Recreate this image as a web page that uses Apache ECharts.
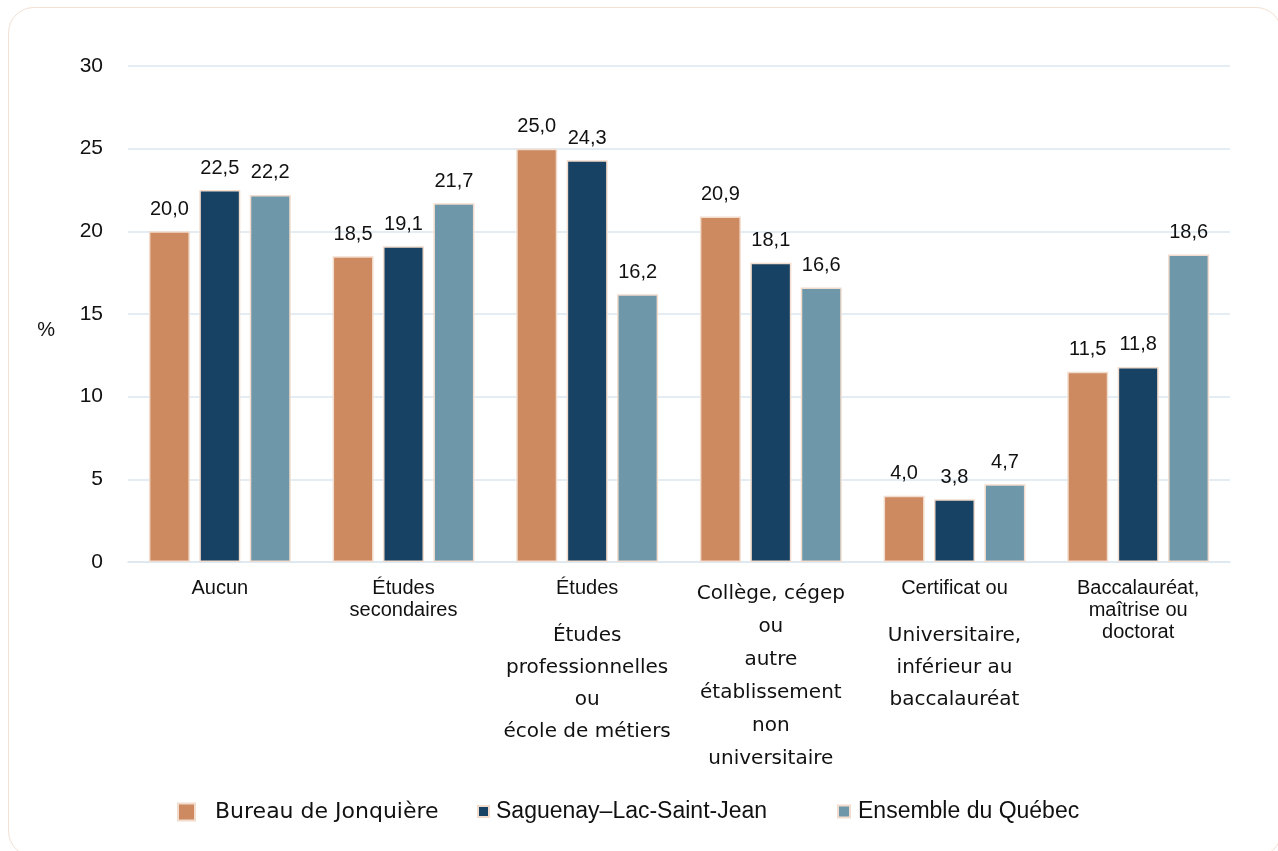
<!DOCTYPE html>
<html>
<head>
<meta charset="utf-8">
<script src="https://cdn.jsdelivr.net/npm/echarts@6/dist/echarts.min.js"></script>
<style>
  html, body { margin: 0; padding: 0; background: #fff; }
  .card {
    position: absolute; left: 8px; top: 7px; width: 1274px; height: 850px;
    border: 1px solid #f3e1d6; border-radius: 26px; box-sizing: border-box;
  }
  #chart { position: absolute; left: 0; top: 0; width: 1278px; height: 851px; }
</style>
</head>
<body>
<div class="card"></div>
<div id="chart"></div>
<script>
// catégories (niveau de scolarité)
const categories = ['Aucun', 'Études secondaires', 'Études professionnelles', 'Collège', 'Certificat', 'Baccalauréat'];
// libellés tels qu'affichés sous l'axe
const catLabels = [
  '{a|Aucun}',
  '{a|Études}\n{a|secondaires}',
  '{a|Études}\n{s| }\n{d|Études}\n{d|professionnelles}\n{d|ou}\n{d|école de métiers}',
  '{c|Collège, cégep}\n{c|ou}\n{c|autre}\n{c|établissement}\n{c|non}\n{c|universitaire}',
  '{a|Certificat ou}\n{s| }\n{d|Universitaire,}\n{d|inférieur au}\n{d|baccalauréat}',
  '{a|Baccalauréat,}\n{a|maîtrise ou}\n{a|doctorat}'
];

const seriesNames = ['Bureau de Jonquière', 'Saguenay–Lac-Saint-Jean', 'Ensemble du Québec'];
const jonquiere = [20.0, 18.5, 25.0, 20.9, 4.0, 11.5];
const saguenay = [22.5, 19.1, 24.3, 18.1, 3.8, 11.8];
const quebec = [22.2, 21.7, 16.2, 16.6, 4.7, 18.6];
const colors = ['#cd8a60', '#174263', '#6e97aa'];

const chart = echarts.init(document.getElementById('chart'));

function barSeries(name, data, color) {
  return {
    name: name,
    type: 'bar',
    data: data,
    barWidth: 41,
    barGap: '23%',
    itemStyle: { color: color, borderColor: '#f2dccd', borderWidth: 1.5 },
    label: {
      show: true,
      position: 'top',
      distance: 12,
      color: '#111',
      fontFamily: 'Liberation Sans',
      fontSize: 20,
      formatter: p => p.value.toFixed(1).replace('.', ',')
    }
  };
}

const legendBase = {
  top: 800,
  padding: 0,
  icon: 'rect',
  selectedMode: true
};

chart.setOption({
  animation: false,
  grid: { left: 128, right: 48, top: 66, bottom: 289 },
  legend: [
    Object.assign({}, legendBase, {
      data: [seriesNames[0]], left: 177, top: 801, itemWidth: 17, itemHeight: 17,
      textStyle: { fontFamily: 'DejaVu Sans', fontSize: 22, color: '#111', padding: [0, 0, 0, 15] }
    }),
    Object.assign({}, legendBase, {
      data: [seriesNames[1]], left: 477, itemWidth: 11, itemHeight: 11,
      textStyle: { fontFamily: 'Liberation Sans', fontSize: 23, color: '#111', padding: [0, 0, 0, 2] }
    }),
    Object.assign({}, legendBase, {
      data: [seriesNames[2]], left: 837, itemWidth: 12, itemHeight: 12,
      textStyle: { fontFamily: 'Liberation Sans', fontSize: 23, color: '#111', padding: [0, 0, 0, 3] }
    })
  ],
  xAxis: {
    type: 'category',
    data: categories,
    axisTick: { show: false },
    axisLine: { lineStyle: { color: '#dbe7f0', width: 1.5 } },
    axisLabel: {
      interval: 0,
      margin: 15,
      color: '#111',
      formatter: (v, i) => catLabels[i],
      rich: {
        a: { fontFamily: 'Liberation Sans', fontSize: 20, lineHeight: 22, color: '#111' },
        d: { fontFamily: 'DejaVu Sans', fontSize: 20, lineHeight: 32, color: '#111' },
        c: { fontFamily: 'DejaVu Sans', fontSize: 20, lineHeight: 33, color: '#111' },
        s: { fontSize: 1, lineHeight: 21 }
      }
    }
  },
  yAxis: {
    type: 'value',
    min: 0,
    max: 30,
    interval: 5,
    name: '\n%',
    nameLocation: 'middle',
    nameRotate: 0,
    nameGap: 73,
    nameTextStyle: { fontFamily: 'Liberation Sans', fontSize: 20, lineHeight: 32, color: '#111' },
    axisLine: { show: false },
    axisTick: { show: false },
    axisLabel: { fontFamily: 'Liberation Sans', fontSize: 21, color: '#111', margin: 25 },
    splitLine: { lineStyle: { color: '#dbe7f0', width: 1.5 } }
  },
  series: [
    barSeries(seriesNames[0], jonquiere, colors[0]),
    barSeries(seriesNames[1], saguenay, colors[1]),
    barSeries(seriesNames[2], quebec, colors[2])
  ]
});
</script>
</body>
</html>
